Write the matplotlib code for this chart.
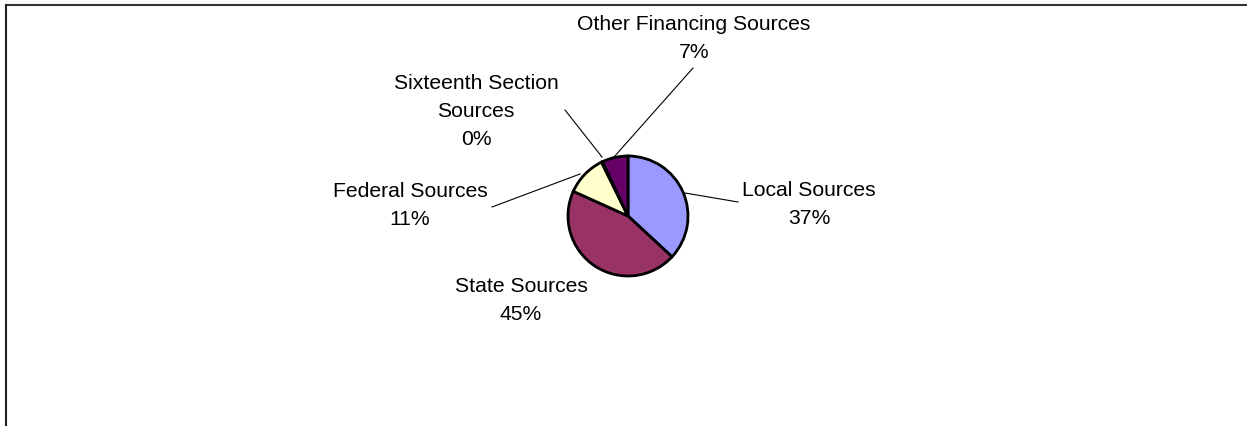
import matplotlib.pyplot as plt
from matplotlib.lines import Line2D

plt.rcParams['font.family'] = ['Liberation Sans', 'DejaVu Sans']

labels = ['Local Sources', 'State Sources', 'Federal Sources',
          'Sixteenth Section\nSources', 'Other Financing Sources']
values = [37, 45, 11, 0.3, 7]
pct_text = ['37%', '45%', '11%', '0%', '7%']
colors = ['#9999FF', '#993366', '#FFFFCC', '#CCFFFF', '#660066']

W, H = 1247, 426
fig = plt.figure(figsize=(W / 100, H / 100), dpi=100)
ax = fig.add_axes([0, 0, 1, 1])

cx, cy, r = 628, H - 216, 60
ax.pie(values, colors=colors, startangle=90, counterclock=False,
       radius=r, center=(cx, cy), frame=True,
       wedgeprops=dict(edgecolor='black', linewidth=2))
ax.set_xlim(0, W)
ax.set_ylim(0, H)
ax.set_aspect('equal')
ax.axis('off')

# label text centres and leader line ends (pixels from top-left)
text_pos = [(809, 204.5), (521, 301), (410, 205.5), (476, 111.5), (694, 38)]
line_a = [(685, 193), (604, 262), (580, 174), (602, 157), (614, 157)]
line_b = [(738, 202), (604, 262), (492, 207), (565, 110), (693, 68)]

for i in range(len(labels)):
    tx, ty = text_pos[i]
    ax.text(tx, H - ty, labels[i] + '\n' + pct_text[i], ha='center', va='center',
            fontsize=15.2, linespacing=1.6)
    a, b = line_a[i], line_b[i]
    if a != b:
        ax.plot([a[0], b[0]], [H - a[1], H - b[1]], color='black', lw=0.8)

# chart border (top and left)
fig.add_artist(Line2D([5.5 / W, 1], [1 - 4.5 / H, 1 - 4.5 / H], color='#333333',
                      lw=1.5, transform=fig.transFigure))
fig.add_artist(Line2D([5.5 / W, 5.5 / W], [0, 1 - 4.5 / H], color='#222222',
                      lw=1.5, transform=fig.transFigure))

fig.savefig('out.png', dpi=100)
